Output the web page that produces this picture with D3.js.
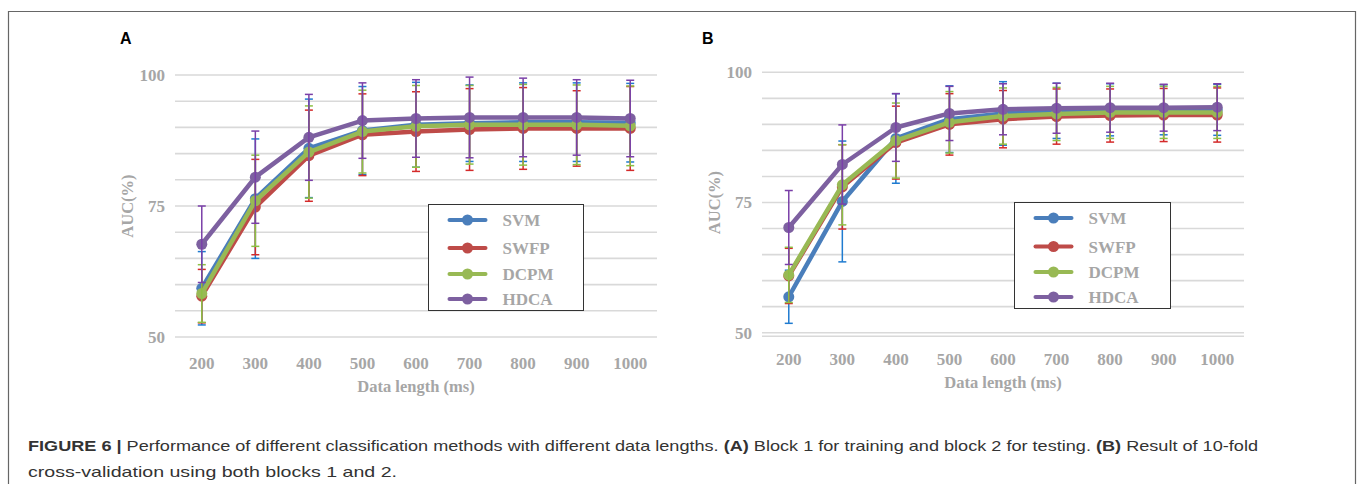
<!DOCTYPE html>
<html>
<head>
<meta charset="utf-8">
<script src="https://cdn.jsdelivr.net/npm/d3@7"></script>
<style>
  body { margin: 0; background: #fff; }
  .tick text, .lbl { font-family: "Liberation Serif", "Times New Roman", serif; font-weight: bold; fill: #a6a6a6; }
</style>
</head>
<body>
<script>
// data lengths on the x axis
var lengths = ["200", "300", "400", "500", "600", "700", "800", "900", "1000"];
var methods = ["SVM", "SWFP", "DCPM", "HDCA"];
var yTicks = [50, 75, 100];

// panel A: block 1 train, block 2 test (mean AUC and error)
var svmA  = [59.3, 76.4, 86.0, 89.4, 90.5, 90.8, 91.0, 91.0, 90.9];
var swfpA = [57.8, 74.8, 84.6, 88.6, 89.2, 89.6, 89.8, 89.8, 89.8];
var dcpmA = [58.3, 76.0, 85.3, 89.2, 90.2, 90.5, 90.5, 90.5, 90.3];
var hdcaA = [67.7, 80.5, 88.1, 91.3, 91.7, 91.9, 91.9, 91.9, 91.7];
var svmErrA  = [7.0, 11.4, 9.4, 8.4, 8.1, 7.3, 7.5, 7.5, 7.5];
var swfpErrA = [5.1, 9.1, 8.7, 7.8, 7.6, 7.8, 7.8, 7.2, 8.0];
var dcpmErrA = [5.5, 8.7, 8.8, 7.9, 7.8, 7.5, 7.7, 7.6, 7.6];
var hdcaErrA = [7.3, 8.8, 8.2, 7.2, 7.4, 7.7, 7.5, 7.2, 7.3];

// panel B: 10-fold cross-validation
var svmB  = [56.9, 75.2, 87.3, 91.0, 92.1, 92.6, 92.8, 92.8, 92.8];
var swfpB = [60.9, 78.0, 86.5, 90.0, 91.0, 91.5, 91.7, 91.8, 91.8];
var dcpmB = [61.1, 78.4, 86.9, 90.4, 91.6, 92.0, 92.3, 92.3, 92.3];
var hdcaB = [70.2, 82.3, 89.4, 92.1, 92.9, 93.1, 93.2, 93.2, 93.3];
var svmErrB  = [5.1, 11.6, 8.6, 6.4, 6.1, 5.3, 5.0, 4.8, 4.9];
var swfpErrB = [5.3, 8.1, 7.0, 5.9, 5.5, 5.3, 5.1, 5.1, 5.2];
var dcpmErrB = [5.3, 7.7, 7.2, 5.9, 5.4, 5.1, 5.0, 5.0, 5.0];
var hdcaErrB = [7.1, 7.6, 6.5, 5.2, 4.9, 4.8, 4.7, 4.5, 4.5];

var lineColors = ["#4a7ebb", "#be4b48", "#98b954", "#7d60a0"];
var barColors  = ["#1f7bd0", "#d42a2a", "#8dc044", "#7a3fa8"];

window.onload = function(){
    var w = 1357, h = 484;
    var svg = d3.select("body").append("svg")
        .attr("width", w)
        .attr("height", h);

    // outer frame (open at the bottom)
    svg.append("path")
        .attr("d", "M8.5,490 L8.5,11.5 L1355.5,11.5 L1355.5,490")
        .style("fill", "none")
        .style("stroke", "#666")
        .style("stroke-width", 1.2);

    drawPanel(svg, {
        label: "A", lx: 120, ly: 44,
        x0: 175, x1: 657, yTop: 75, yBot: 337,
        means: [svmA, swfpA, dcpmA, hdcaA],
        errs: [svmErrA, swfpErrA, dcpmErrA, hdcaErrA],
        legend: {x: 428.5, y: 204.5, w: 155, h: 106, rows: [220, 248, 274, 299]},
        doubleBase: false
    });
    drawPanel(svg, {
        label: "B", lx: 702, ly: 44,
        x0: 762, x1: 1244, yTop: 72.3, yBot: 332.7,
        means: [svmB, swfpB, dcpmB, hdcaB],
        errs: [svmErrB, swfpErrB, dcpmErrB, hdcaErrB],
        legend: {x: 1014.5, y: 202.5, w: 156, h: 106, rows: [218, 246.5, 272, 297]},
        doubleBase: true
    });

    // caption (the figure is stretched sideways, so fit each line to its width)
    var cap = svg.append("text")
        .attr("x", 28)
        .attr("y", 451)
        .attr("textLength", 1230)
        .attr("lengthAdjust", "spacingAndGlyphs")
        .style("font-family", "'Liberation Sans', Arial, sans-serif")
        .style("font-size", "14.5px")
        .style("fill", "#333");
    cap.append("tspan").style("font-weight", "bold").text("FIGURE 6 | ");
    cap.append("tspan").text("Performance of different classification methods with different data lengths. ");
    cap.append("tspan").style("font-weight", "bold").text("(A)");
    cap.append("tspan").text(" Block 1 for training and block 2 for testing. ");
    cap.append("tspan").style("font-weight", "bold").text("(B)");
    cap.append("tspan").text(" Result of 10-fold");
    svg.append("text")
        .attr("x", 28)
        .attr("y", 477)
        .attr("textLength", 369)
        .attr("lengthAdjust", "spacingAndGlyphs")
        .style("font-family", "'Liberation Sans', Arial, sans-serif")
        .style("font-size", "14.5px")
        .style("fill", "#333")
        .text("cross-validation using both blocks 1 and 2.");
};

function drawPanel(svg, c){
    var x = d3.scaleBand().domain(lengths).range([c.x0, c.x1]);
    var y = d3.scaleLinear().domain([50, 100]).range([c.yBot, c.yTop]);
    var g = svg.append("g");

    // panel letter
    g.append("text")
        .attr("x", c.lx).attr("y", c.ly)
        .style("font-family", "'Liberation Sans', Arial, sans-serif")
        .style("font-weight", "bold")
        .style("font-size", "16px")
        .style("fill", "#000")
        .text(c.label);

    // horizontal gridlines every 5
    g.selectAll(".grid")
        .data(d3.range(50, 101, 5))
        .enter().append("line")
        .attr("class", "grid")
        .attr("x1", c.x0).attr("x2", c.x1)
        .attr("y1", function(d){ return y(d); })
        .attr("y2", function(d){ return y(d); })
        .style("stroke", "#d9d9d9")
        .style("stroke-width", 1.6);
    if (c.doubleBase) {
        g.append("line")
            .attr("x1", c.x0).attr("x2", c.x1)
            .attr("y1", y(50) + 3.5).attr("y2", y(50) + 3.5)
            .style("stroke", "#d9d9d9")
            .style("stroke-width", 1.6);
    }

    // y axis labels
    var yAxis = d3.axisLeft(y).tickValues(yTicks).tickSize(0).tickPadding(10);
    var ya = g.append("g").attr("transform", "translate(" + c.x0 + ",0)").call(yAxis);
    ya.select(".domain").remove();
    ya.selectAll("text").style("font-size", "17px");

    // x axis labels
    var xAxis = d3.axisBottom(x).tickSize(0).tickPadding(20);
    var xa = g.append("g").attr("transform", "translate(0," + c.yBot + ")").call(xAxis);
    xa.select(".domain").remove();
    xa.selectAll("text").style("font-size", "17px");

    g.append("text").attr("class", "lbl")
        .attr("x", (c.x0 + c.x1) / 2).attr("y", c.yBot + 55)
        .attr("text-anchor", "middle")
        .style("font-size", "16.5px")
        .text("Data length (ms)");
    g.append("text").attr("class", "lbl")
        .attr("transform", "translate(" + (c.x0 - 42) + "," + ((c.yTop + c.yBot) / 2) + ") rotate(-90)")
        .attr("text-anchor", "middle")
        .style("font-size", "16.5px")
        .text("AUC(%)");

    var cx = function(d, i){ return x(lengths[i]) + x.bandwidth() / 2; };
    var line = d3.line()
        .x(function(d, i){ return cx(d, i); })
        .y(function(d){ return y(d); });

    c.means.forEach(function(vals, s){
        var errs = c.errs[s];
        var sg = g.append("g");
        sg.append("path")
            .datum(vals)
            .attr("d", line)
            .style("fill", "none")
            .style("stroke", lineColors[s])
            .style("stroke-width", 4.5)
            .style("stroke-linejoin", "round");
        sg.selectAll(".dot")
            .data(vals).enter().append("circle")
            .attr("cx", cx)
            .attr("cy", function(d){ return y(d); })
            .attr("r", 5.5)
            .style("fill", lineColors[s]);
        // error bars with caps
        var eb = sg.selectAll(".eb").data(vals).enter().append("g");
        eb.append("line")
            .attr("x1", cx).attr("x2", cx)
            .attr("y1", function(d, i){ return y(d + errs[i]); })
            .attr("y2", function(d, i){ return y(d - errs[i]); });
        eb.append("line")
            .attr("x1", function(d, i){ return cx(d, i) - 4; })
            .attr("x2", function(d, i){ return cx(d, i) + 4; })
            .attr("y1", function(d, i){ return y(d + errs[i]); })
            .attr("y2", function(d, i){ return y(d + errs[i]); });
        eb.append("line")
            .attr("x1", function(d, i){ return cx(d, i) - 4; })
            .attr("x2", function(d, i){ return cx(d, i) + 4; })
            .attr("y1", function(d, i){ return y(d - errs[i]); })
            .attr("y2", function(d, i){ return y(d - errs[i]); });
        eb.selectAll("line")
            .style("stroke", barColors[s])
            .style("stroke-width", 1.5);
    });

    // legend
    var L = c.legend;
    var lg = g.append("g");
    lg.append("rect")
        .attr("x", L.x).attr("y", L.y)
        .attr("width", L.w).attr("height", L.h)
        .style("fill", "#fff")
        .style("stroke", "#333")
        .style("stroke-width", 1);
    methods.forEach(function(m, s){
        var ry = L.rows[s];
        lg.append("line")
            .attr("x1", L.x + 21).attr("x2", L.x + 57)
            .attr("y1", ry).attr("y2", ry)
            .style("stroke", lineColors[s])
            .style("stroke-width", 4)
            .style("stroke-linecap", "round");
        lg.append("circle")
            .attr("cx", L.x + 39).attr("cy", ry).attr("r", 5.5)
            .style("fill", lineColors[s]);
        lg.append("text").attr("class", "lbl")
            .attr("x", L.x + 74).attr("y", ry + 6)
            .style("font-size", "17px")
            .text(m);
    });
}
</script>
</body>
</html>
